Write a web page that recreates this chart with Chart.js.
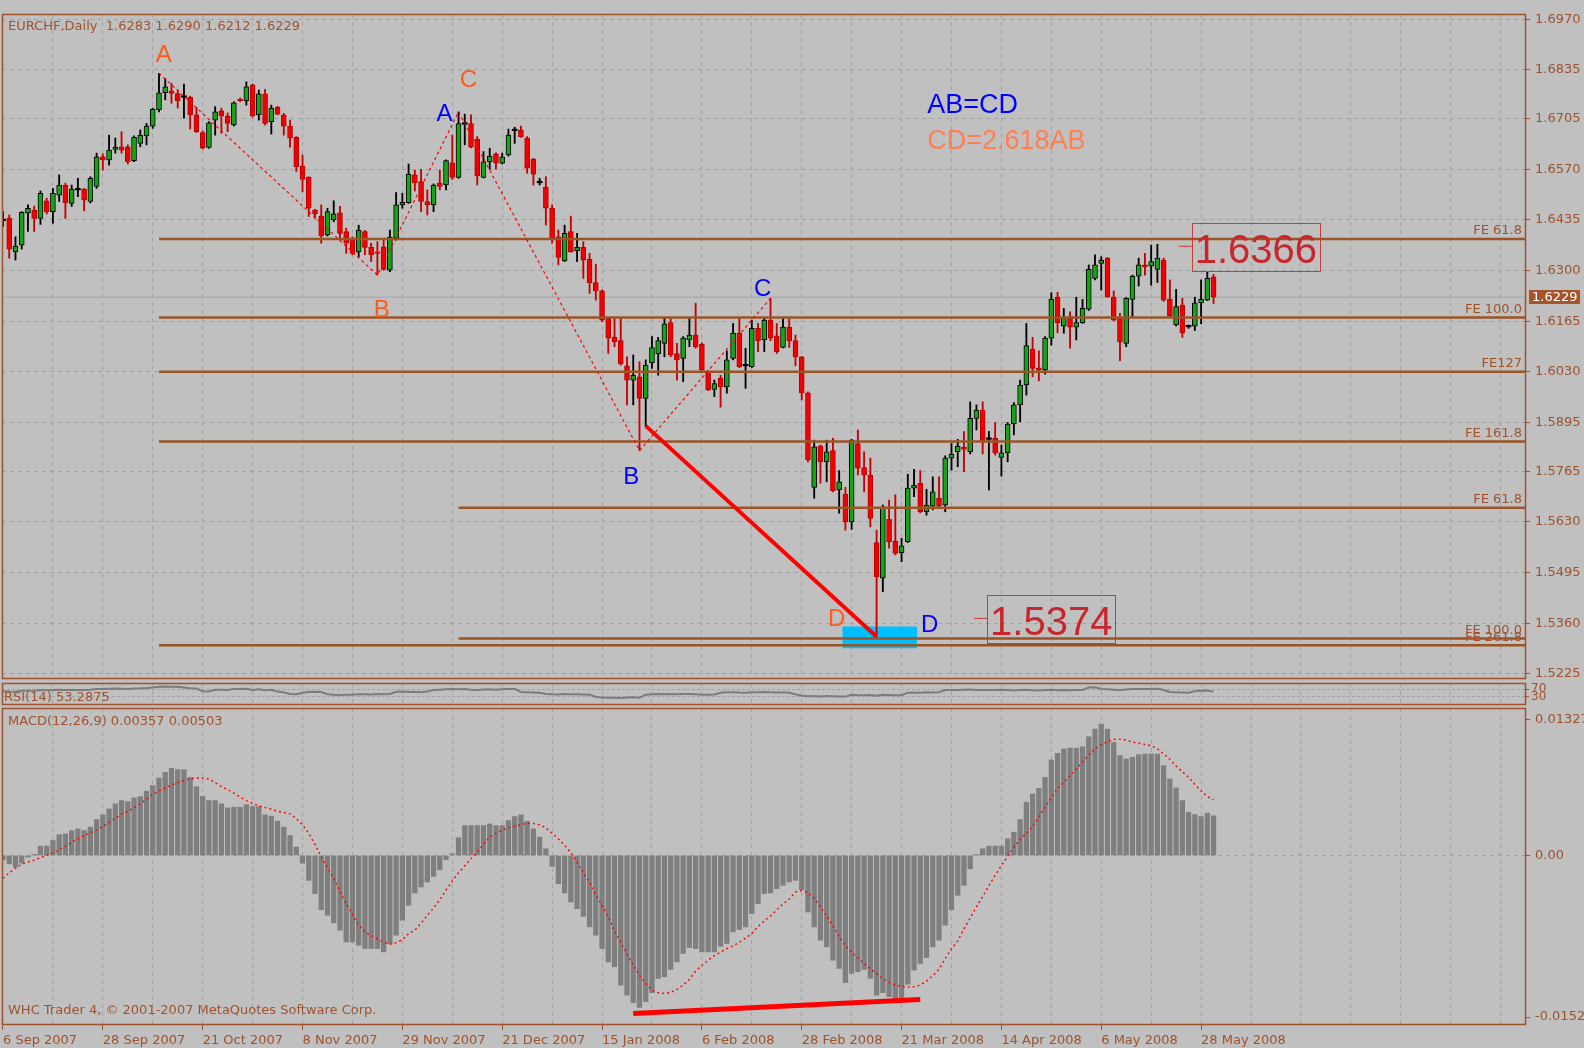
<!DOCTYPE html>
<html>
<head>
<meta charset="utf-8">
<script src="https://cdn.jsdelivr.net/npm/chart.js@4.4.1/dist/chart.umd.min.js"></script>
<style>
  html, body { margin:0; padding:0; background:#c0c0c0; }
  body { width:1584px; height:1048px; position:relative; overflow:hidden; }
  .pane { position:absolute; left:0; width:1584px; }
  .pane canvas { display:block; }
</style>
</head>
<body>
<div class="pane" style="top:0;height:684px"><canvas id="cMain"></canvas></div>
<div class="pane" style="top:680px;height:28px"><canvas id="cRsi"></canvas></div>
<div class="pane" style="top:704px;height:344px"><canvas id="cMacd"></canvas></div>
<script>
// ---------------- DATA ----------------
const dateLabels = ['6 Sep 2007','28 Sep 2007','21 Oct 2007','8 Nov 2007','29 Nov 2007','21 Dec 2007','15 Jan 2008','6 Feb 2008','28 Feb 2008','21 Mar 2008','14 Apr 2008','6 May 2008','28 May 2008'];

const opens = [
1.6433,1.6439,1.6350,1.6368,1.6453,1.6461,1.6439,1.6486,1.6457,1.6501,
1.6528,1.6479,1.6515,1.6517,1.6484,1.6524,1.6603,1.6595,1.6623,1.6630,
1.6630,1.6593,1.6639,1.6659,1.6685,1.6728,1.6774,1.6779,1.6772,1.6762,
1.6762,1.6715,1.6668,1.6628,1.6701,1.6726,1.6712,1.6688,1.6757,1.6753,
1.6795,1.6715,1.6771,1.6697,1.6735,1.6715,1.6685,1.6655,1.6579,1.6549,
1.6461,1.6445,1.6395,1.6435,1.6454,1.6404,1.6381,1.6350,1.6404,1.6362,
1.6350,1.6363,1.6301,1.6386,1.6475,1.6481,1.6555,1.6537,1.6484,1.6475,
1.6533,1.6528,1.6587,1.6548,1.6690,1.6692,1.6650,1.6548,1.6590,1.6611,
1.6586,1.6608,1.6673,1.6675,1.6653,1.6597,1.6534,1.6522,1.6466,1.6390,
1.6326,1.6404,1.6353,1.6362,1.6330,1.6268,1.6246,1.6173,1.6122,1.6113,
1.6046,1.6008,1.6017,1.5959,1.6054,1.6078,1.6106,1.6161,1.6079,1.6066,
1.6115,1.6128,1.6104,1.6030,1.5983,1.6013,1.5990,1.6066,1.6133,1.6046,
1.6044,1.6146,1.6115,1.6168,1.6126,1.6095,1.6149,1.6113,1.6070,1.5974,
1.5722,1.5832,1.5790,1.5820,1.5715,1.5704,1.5630,1.5839,1.5775,1.5755,
1.5575,1.5480,1.5637,1.5579,1.5548,1.5577,1.5720,1.5733,1.5657,1.5672,
1.5693,1.5675,1.5800,1.5817,1.5829,1.5817,1.5906,1.5928,1.5850,1.5853,
1.5802,1.5814,1.5891,1.5942,1.5995,1.6091,1.6041,1.6035,1.6120,1.6229,
1.6152,1.6177,1.6149,1.6161,1.6197,1.6279,1.6319,1.6333,1.6229,1.6175,
1.6106,1.6223,1.6285,1.6315,1.6312,1.6303,1.6328,1.6223,1.6155,1.6208,
1.6150,1.6152,1.6214,1.6221,1.6283];

const highs = [
1.6457,1.6448,1.6390,1.6457,1.6475,1.6472,1.6512,1.6493,1.6519,1.6555,
1.6533,1.6528,1.6546,1.6519,1.6550,1.6613,1.6611,1.6661,1.6653,1.6670,
1.6635,1.6659,1.6675,1.6692,1.6733,1.6826,1.6812,1.6799,1.6781,1.6797,
1.6765,1.6735,1.6672,1.6697,1.6737,1.6733,1.6720,1.6750,1.6760,1.6803,
1.6797,1.6781,1.6783,1.6741,1.6738,1.6719,1.6701,1.6657,1.6608,1.6550,
1.6463,1.6475,1.6466,1.6486,1.6471,1.6413,1.6390,1.6421,1.6407,1.6373,
1.6377,1.6386,1.6408,1.6508,1.6506,1.6584,1.6568,1.6570,1.6515,1.6531,
1.6568,1.6595,1.6661,1.6723,1.6717,1.6715,1.6657,1.6617,1.6626,1.6614,
1.6613,1.6677,1.6682,1.6685,1.6657,1.6599,1.6546,1.6550,1.6475,1.6408,
1.6421,1.6445,1.6399,1.6377,1.6346,1.6317,1.6248,1.6175,1.6173,1.6173,
1.6070,1.6075,1.6057,1.6062,1.6124,1.6122,1.6173,1.6173,1.6106,1.6124,
1.6173,1.6213,1.6107,1.6033,1.6008,1.6021,1.6086,1.6159,1.6173,1.6093,
1.6168,1.6159,1.6173,1.6226,1.6159,1.6173,1.6171,1.6128,1.6071,1.5977,
1.5848,1.5835,1.5848,1.5853,1.5767,1.5722,1.5850,1.5875,1.5817,1.5800,
1.5608,1.5675,1.5688,1.5702,1.5586,1.5757,1.5770,1.5767,1.5717,1.5750,
1.5750,1.5806,1.5839,1.5850,1.5871,1.5950,1.5942,1.5950,1.5871,1.5895,
1.5835,1.5895,1.5948,1.6008,1.6159,1.6122,1.6086,1.6124,1.6241,1.6242,
1.6199,1.6190,1.6229,1.6223,1.6315,1.6342,1.6337,1.6335,1.6246,1.6186,
1.6228,1.6288,1.6333,1.6346,1.6368,1.6370,1.6333,1.6275,1.6250,1.6226,
1.6155,1.6229,1.6275,1.6297,1.6290];

const lows = [
1.6417,1.6333,1.6328,1.6357,1.6404,1.6404,1.6423,1.6451,1.6426,1.6484,
1.6439,1.6471,1.6497,1.6459,1.6480,1.6519,1.6568,1.6581,1.6613,1.6613,
1.6584,1.6590,1.6630,1.6635,1.6679,1.6723,1.6755,1.6746,1.6733,1.6706,
1.6677,1.6668,1.6624,1.6626,1.6661,1.6666,1.6670,1.6685,1.6750,1.6741,
1.6709,1.6701,1.6688,1.6664,1.6715,1.6661,1.6629,1.6564,1.6510,1.6444,
1.6439,1.6373,1.6392,1.6430,1.6381,1.6346,1.6342,1.6337,1.6342,1.6324,
1.6288,1.6301,1.6297,1.6381,1.6466,1.6479,1.6512,1.6457,1.6448,1.6457,
1.6515,1.6515,1.6543,1.6546,1.6635,1.6627,1.6528,1.6547,1.6570,1.6570,
1.6584,1.6605,1.6639,1.6655,1.6559,1.6528,1.6528,1.6421,1.6373,1.6315,
1.6324,1.6349,1.6324,1.6279,1.6239,1.6221,1.6164,1.6079,1.6097,1.6048,
1.5942,1.5942,1.5820,1.5886,1.6039,1.6021,1.6070,1.6070,1.6008,1.6004,
1.6097,1.6093,1.6030,1.5980,1.5964,1.5936,1.5973,1.6062,1.6041,1.5986,
1.6041,1.6084,1.6084,1.6113,1.6079,1.6094,1.6095,1.6046,1.5955,1.5790,
1.5693,1.5733,1.5737,1.5710,1.5653,1.5608,1.5610,1.5755,1.5710,1.5617,
1.5324,1.5444,1.5560,1.5542,1.5524,1.5575,1.5697,1.5654,1.5648,1.5662,
1.5670,1.5657,1.5768,1.5777,1.5764,1.5811,1.5875,1.5811,1.5715,1.5808,
1.5752,1.5790,1.5862,1.5897,1.5968,1.6017,1.6006,1.6024,1.6101,1.6134,
1.6133,1.6093,1.6115,1.6159,1.6193,1.6275,1.6248,1.6229,1.6166,1.6060,
1.6097,1.6177,1.6259,1.6288,1.6261,1.6268,1.6218,1.6177,1.6152,1.6122,
1.6146,1.6140,1.6158,1.6220,1.6212];

const closes = [
1.6433,1.6357,1.6365,1.6455,1.6466,1.6439,1.6506,1.6457,1.6506,1.6528,
1.6481,1.6517,1.6515,1.6488,1.6546,1.6603,1.6595,1.6621,1.6629,1.6621,
1.6590,1.6655,1.6661,1.6685,1.6730,1.6774,1.6790,1.6772,1.6753,1.6762,
1.6715,1.6670,1.6626,1.6694,1.6723,1.6712,1.6692,1.6747,1.6753,1.6790,
1.6712,1.6771,1.6692,1.6733,1.6717,1.6685,1.6653,1.6577,1.6543,1.6466,
1.6451,1.6392,1.6457,1.6451,1.6399,1.6373,1.6346,1.6408,1.6362,1.6342,
1.6346,1.6303,1.6389,1.6475,1.6482,1.6557,1.6534,1.6484,1.6475,1.6528,
1.6524,1.6593,1.6548,1.6692,1.6690,1.6629,1.6552,1.6590,1.6605,1.6586,
1.6603,1.6661,1.6673,1.6657,1.6573,1.6557,1.6534,1.6466,1.6386,1.6335,
1.6399,1.6350,1.6362,1.6328,1.6268,1.6246,1.6168,1.6120,1.6110,1.6051,
1.6008,1.6021,1.5959,1.6048,1.6095,1.6113,1.6158,1.6075,1.6062,1.6120,
1.6128,1.6097,1.6035,1.5982,1.5999,1.5990,1.6062,1.6133,1.6044,1.6046,
1.6146,1.6113,1.6168,1.6120,1.6084,1.6149,1.6113,1.6070,1.5974,1.5795,
1.5830,1.5790,1.5817,1.5713,1.5737,1.5630,1.5848,1.5773,1.5755,1.5639,
1.5484,1.5666,1.5577,1.5546,1.5566,1.5720,1.5728,1.5657,1.5675,1.5710,
1.5672,1.5800,1.5811,1.5832,1.5823,1.5906,1.5928,1.5844,1.5850,1.5814,
1.5814,1.5891,1.5942,1.5995,1.6100,1.6039,1.6035,1.6120,1.6224,1.6161,
1.6175,1.6149,1.6161,1.6199,1.6303,1.6315,1.6328,1.6230,1.6168,1.6110,
1.6226,1.6285,1.6315,1.6310,1.6324,1.6333,1.6221,1.6179,1.6204,1.6134,
1.6150,1.6214,1.6223,1.6279,1.6229];

const rsiValues = [
60,58,57,62,63,62,
66,65,67,68,66,67,67,66,68,72,71,
73,74,73,72,74,75,
77,80,84,85,84,83,
80,76,74,
60,58,
68,68,67,71,71,73,66,70,65,68,
58,54,46,44,
52,56,57,56,
44,41,40,42,41,
44,44,43,45,44,46,
57,58,56,57,55,58,
66,68,70,71,70,72,68,66,69,70,68,70,71,72,
56,54,53,52,
46,44,43,45,44,44,43,42,
30,27,26,26,25,27,28,26,
42,44,45,44,46,44,45,46,44,42,41,43,
52,54,55,53,52,54,55,56,55,53,54,52,
44,36,34,35,33,35,34,33,32,
42,40,39,40,36,41,40,39,39,
52,53,52,54,53,55,
66,67,66,68,69,67,66,67,66,68,67,
64,66,68,65,64,66,68,65,66,65,66,67,
80,81,
72,70,68,66,69,71,72,71,72,73,66,
56,54,53,52,
60,62,64,58];

const macdHist = [
-0.00039,-0.00075,-0.00105,-0.00069,-0.00015,0.00009,0.00084,0.00084,0.00135,0.00186,
0.00194,0.00224,0.00239,0.00224,0.00254,0.00323,0.00365,0.00419,0.00464,0.00494,
0.00485,0.00518,0.00530,0.00578,0.00628,0.00697,0.00748,0.00784,0.00772,0.00772,
0.00703,0.00619,0.00533,0.00494,0.00494,0.00464,0.00428,0.00434,0.00434,0.00458,
0.00440,0.00440,0.00365,0.00353,0.00308,0.00254,0.00180,0.00075,-0.00069,-0.00224,
-0.00344,-0.00488,-0.00539,-0.00607,-0.00673,-0.00778,-0.00778,-0.00808,-0.00838,-0.00838,
-0.00838,-0.00868,-0.00793,-0.00718,-0.00583,-0.00449,-0.00338,-0.00284,-0.00239,-0.00189,
-0.00129,-0.00039,0.00015,0.00159,0.00269,0.00269,0.00269,0.00269,0.00284,0.00269,
0.00269,0.00314,0.00350,0.00365,0.00308,0.00239,0.00165,0.00060,-0.00099,-0.00254,
-0.00338,-0.00419,-0.00479,-0.00548,-0.00643,-0.00718,-0.00838,-0.00958,-0.01002,-0.01167,
-0.01257,-0.01326,-0.01367,-0.01317,-0.01236,-0.01107,-0.01092,-0.01026,-0.00958,-0.00883,
-0.00829,-0.00838,-0.00868,-0.00868,-0.00868,-0.00817,-0.00793,-0.00688,-0.00667,-0.00643,
-0.00524,-0.00434,-0.00344,-0.00338,-0.00299,-0.00269,-0.00239,-0.00224,-0.00308,-0.00509,
-0.00643,-0.00763,-0.00823,-0.00943,-0.01017,-0.01146,-0.01062,-0.01047,-0.01026,-0.01107,
-0.01257,-0.01236,-0.01272,-0.01287,-0.01287,-0.01158,-0.01032,-0.00972,-0.00919,-0.00823,
-0.00763,-0.00628,-0.00488,-0.00359,-0.00269,-0.00120,0.00009,0.00060,0.00084,0.00084,
0.00084,0.00150,0.00209,0.00323,0.00479,0.00554,0.00604,0.00703,0.00859,0.00919,
0.00958,0.00966,0.00966,0.00978,0.01068,0.01137,0.01182,0.01137,0.01017,0.00898,
0.00868,0.00883,0.00907,0.00913,0.00913,0.00913,0.00808,0.00688,0.00607,0.00494,
0.00389,0.00368,0.00350,0.00380,0.00357];

const macdSignal = [
-0.00206,-0.00156,-0.00114,-0.00078,-0.00060,-0.00042,-0.00021,0.00000,0.00024,0.00051,
0.00084,0.00120,0.00150,0.00177,0.00203,0.00230,0.00260,0.00296,0.00332,0.00371,
0.00398,0.00428,0.00464,0.00506,0.00551,0.00580,0.00607,0.00634,0.00655,0.00673,
0.00688,0.00697,0.00697,0.00688,0.00655,0.00619,0.00592,0.00560,0.00524,0.00494,
0.00470,0.00446,0.00431,0.00416,0.00398,0.00386,0.00374,0.00332,0.00275,0.00200,
0.00099,-0.00012,-0.00111,-0.00206,-0.00326,-0.00434,-0.00530,-0.00628,-0.00688,-0.00721,
-0.00751,-0.00781,-0.00799,-0.00784,-0.00760,-0.00703,-0.00673,-0.00610,-0.00539,-0.00473,
-0.00398,-0.00311,-0.00230,-0.00156,-0.00093,-0.00030,0.00030,0.00102,0.00165,0.00200,
0.00227,0.00248,0.00263,0.00278,0.00290,0.00287,0.00275,0.00248,0.00200,0.00150,
0.00090,0.00027,-0.00060,-0.00159,-0.00242,-0.00356,-0.00452,-0.00551,-0.00682,-0.00778,
-0.00889,-0.00987,-0.01080,-0.01152,-0.01212,-0.01236,-0.01242,-0.01233,-0.01206,-0.01167,
-0.01116,-0.01041,-0.00990,-0.00943,-0.00901,-0.00871,-0.00838,-0.00814,-0.00781,-0.00745,
-0.00703,-0.00640,-0.00589,-0.00545,-0.00488,-0.00437,-0.00392,-0.00329,-0.00317,-0.00335,
-0.00386,-0.00461,-0.00548,-0.00634,-0.00733,-0.00811,-0.00874,-0.00922,-0.00972,-0.01020,
-0.01065,-0.01107,-0.01143,-0.01167,-0.01179,-0.01185,-0.01182,-0.01167,-0.01131,-0.01083,
-0.01023,-0.00928,-0.00841,-0.00769,-0.00661,-0.00563,-0.00464,-0.00368,-0.00272,-0.00177,
-0.00093,-0.00006,0.00075,0.00144,0.00200,0.00260,0.00347,0.00434,0.00521,0.00601,
0.00658,0.00718,0.00778,0.00841,0.00904,0.00961,0.00996,0.01026,0.01044,0.01047,
0.01038,0.01020,0.01011,0.00999,0.00987,0.00961,0.00913,0.00865,0.00805,0.00754,
0.00703,0.00640,0.00580,0.00530,0.00503];

const priceTicks = [1.6970,1.6835,1.6705,1.6570,1.6435,1.6300,1.6165,1.6030,1.5895,1.5765,1.5630,1.5495,1.5360,1.5225];
const macdTickLabels = ['0.01327','0.00','-0.01526'];
const macdTickValues = [0.01219, 0, -0.01454];
const rsiLevels = [70, 30];

// Fibonacci expansion objects
const fe1Start = 25;
const fe1Levels = [1.6384, 1.6175, 1.6030, 1.5844, 1.5301];
const fe1Names = ['FE 61.8','FE 100.0','FE127','FE 161.8','FE 261.8'];
const fe2Start = 73;
const fe2Levels = [1.5668, 1.5319];
const fe2Names = ['FE 61.8','FE 100.0'];

// zigzag (dotted), trendline, MACD divergence line
const zigzagBars = [25, 60, 73, 102, 123];
const zigzagPrices = [1.6826, 1.6288, 1.6723, 1.5820, 1.6226];
const trendBars = [103, 140];
const trendPrices = [1.5886, 1.5324];
const macdDivBars = [101, 147];
const macdDivValues = [-0.01422, -0.01296];
const zoneBars = [134.5, 146.5];
const zonePrices = [1.5351, 1.5293];
const lastPrice = 1.6229;
const headerText = 'EURCHF,Daily  1.6283 1.6290 1.6212 1.6229';
const macdText = 'MACD(12,26,9) 0.00357 0.00503';
const rsiText = 'RSI(14) 53.2875';
const copyText = 'WHC Trader 4, \u00A9 2001-2007 MetaQuotes Software Corp.';

// ---------------- STYLE / GEOMETRY ----------------
const BROWN = '#a0522d';
const FE_COLOR = '#9a5426';
const GRID = '#a2a2a2';
const ORANGE = '#ff5a1e';
const CORAL = '#ff7f50';
const BLUE = '#0000ff';
const DARKRED = '#c8262c';
const AXIS_FONT = '"DejaVu Sans", Verdana, sans-serif';
const ANNO_FONT = '"Liberation Sans", Arial, sans-serif';
const X_MIN = -0.16, X_MAX = 244.07;
const P_MIN = 1.52112, P_MAX = 1.69839;
const gridBars = []; for (let v = 0; v <= 240; v += 8) gridBars.push(v);

const isDoji = i => opens[i] === closes[i];
const isUp = i => closes[i] > opens[i];

function zeroPad(s) { s.paddingTop = 0; s.paddingBottom = 0; s.paddingLeft = 0; s.paddingRight = 0; }

function xScale(showLabels) {
  return {
    type: 'linear', min: X_MIN, max: X_MAX, offset: false, position: 'bottom',
    afterBuildTicks: s => { s.ticks = gridBars.map(v => ({ value: v })); },
    afterFit: s => { s.height = showLabels ? 23 : 0; zeroPad(s); },
    ticks: {
      display: showLabels, autoSkip: false, maxRotation: 0, minRotation: 0, align: 'start',
      color: BROWN, font: { family: AXIS_FONT, size: 13 }, padding: 3,
      callback: v => (v % 16 === 0 && v / 16 < dateLabels.length) ? dateLabels[v / 16] : ''
    },
    grid: {
      offset: false, color: GRID, lineWidth: 1, drawTicks: showLabels, tickLength: 5,
      tickColor: c => (c.tick && c.tick.value % 16 === 0 && c.tick.value / 16 < dateLabels.length) ? BROWN : 'rgba(0,0,0,0)'
    },
    border: { display: false, dash: [4, 4] }
  };
}

function txt(ctx, s, x, y, font, color, align, base) {
  ctx.save(); ctx.font = font; ctx.fillStyle = color; ctx.textAlign = align || 'left';
  ctx.textBaseline = base || 'middle'; ctx.fillText(s, x, y); ctx.restore();
}

const framePlugin = {
  id: 'frame',
  afterDraw(chart) {
    const { ctx, chartArea: a } = chart;
    ctx.save(); ctx.strokeStyle = BROWN; ctx.lineWidth = 1.5;
    ctx.strokeRect(a.left + 0.5, a.top + 0.5, a.right - a.left - 1, a.bottom - a.top - 1);
    ctx.restore();
  }
};

const common = {
  responsive: true, maintainAspectRatio: false, animation: false, devicePixelRatio: 1, events: [],
  plugins: { legend: { display: false }, tooltip: { enabled: false } }
};

function seg(points, color, width, dash, order) {
  return { type: 'line', data: points, borderColor: color, borderWidth: width, borderDash: dash || [],
           pointRadius: 0, fill: false, tension: 0, order: order };
}

// ---------------- MAIN CHART ----------------
const mainDatasets = [];
mainDatasets.push({ type: 'line', data: [{ x: zoneBars[0], y: zonePrices[0] }, { x: zoneBars[1], y: zonePrices[0] }],
  borderWidth: 0, borderColor: 'rgba(0,0,0,0)', backgroundColor: '#00bfff', pointRadius: 0,
  fill: { value: zonePrices[1] }, order: 100 });
mainDatasets.push(seg([{ x: X_MIN, y: lastPrice }, { x: X_MAX, y: lastPrice }], '#a4a4a4', 1, [], 90));
mainDatasets.push({ type: 'bar', data: highs.map((h, i) => ({ x: i, y: [lows[i], h] })), grouped: false,
  barThickness: 1.2, backgroundColor: ctx => (isUp(ctx.dataIndex) || isDoji(ctx.dataIndex)) ? '#000000' : '#c40000',
  borderWidth: 0, order: 30 });
mainDatasets.push({ type: 'bar', data: opens.map((o, i) => ({ x: i, y: [o, closes[i]] })), grouped: false,
  barThickness: 5, minBarLength: 1.5, borderSkipped: false,
  backgroundColor: ctx => isDoji(ctx.dataIndex) ? '#000000' : (isUp(ctx.dataIndex) ? '#17a317' : '#f00000'),
  borderColor: ctx => isDoji(ctx.dataIndex) ? '#000000' : (isUp(ctx.dataIndex) ? '#000000' : '#b80000'),
  borderWidth: ctx => isDoji(ctx.dataIndex) ? 0 : 1, order: 20 });
fe1Levels.forEach(l => mainDatasets.push(seg([{ x: fe1Start, y: l }, { x: X_MAX, y: l }], FE_COLOR, 2.5, [], 10)));
fe2Levels.forEach(l => mainDatasets.push(seg([{ x: fe2Start, y: l }, { x: X_MAX, y: l }], FE_COLOR, 2.5, [], 10)));
mainDatasets.push(seg(zigzagBars.map((b, k) => ({ x: b, y: zigzagPrices[k] })), '#ff0000', 1.2, [3, 3], 5));
mainDatasets.push(seg(trendBars.map((b, k) => ({ x: b, y: trendPrices[k] })), '#ff0000', 4, [], 4));

const waveLetters = [
  { t: 'A', i: 25.75, p: 1.6873, c: ORANGE }, { t: 'B', i: 60.7, p: 1.6195, c: ORANGE },
  { t: 'C', i: 74.6, p: 1.6806, c: ORANGE }, { t: 'D', i: 133.6, p: 1.5370, c: ORANGE },
  { t: 'A', i: 70.75, p: 1.6717, c: BLUE }, { t: 'B', i: 100.7, p: 1.5748, c: BLUE },
  { t: 'C', i: 121.75, p: 1.6251, c: BLUE }, { t: 'D', i: 148.5, p: 1.5354, c: BLUE }
];
const priceLabels = [{ v: 1.6366, i: 190.5 }, { v: 1.5374, i: 157.7 }];

const mainAnno = {
  id: 'mainAnno',
  afterDatasetsDraw(chart) {
    const { ctx, scales: { x, y }, chartArea: a } = chart;
    const feAll = fe1Levels.map((l, k) => [l, fe1Names[k]]).concat(fe2Levels.map((l, k) => [l, fe2Names[k]]));
    feAll.forEach(([l, n]) => txt(ctx, n, a.right - 4, y.getPixelForValue(l) - 1.5, '13px ' + AXIS_FONT, BROWN, 'right', 'bottom'));
    waveLetters.forEach(L => txt(ctx, L.t, x.getPixelForValue(L.i), y.getPixelForValue(L.p), '24px ' + ANNO_FONT, L.c, 'center', 'middle'));
    txt(ctx, 'AB=CD', x.getPixelForValue(148.1), y.getPixelForValue(1.6741), '27px ' + ANNO_FONT, BLUE, 'left', 'middle');
    txt(ctx, 'CD=2.618AB', x.getPixelForValue(148.1), y.getPixelForValue(1.6644), '27px ' + ANNO_FONT, CORAL, 'left', 'middle');
    priceLabels.forEach(P => {
      const px = x.getPixelForValue(P.i), py = y.getPixelForValue(P.v);
      ctx.save();
      ctx.font = '40px ' + ANNO_FONT;
      const w = ctx.measureText(P.v.toFixed(4)).width;
      ctx.strokeStyle = '#cc3a3a'; ctx.lineWidth = 1;
      ctx.strokeRect(Math.round(px) + 0.5, Math.round(py - 23) + 0.5, Math.round(w + 6), 48);
      ctx.beginPath(); ctx.moveTo(px - 13, py + 0.5); ctx.lineTo(px, py + 0.5); ctx.stroke();
      ctx.fillStyle = DARKRED; ctx.textAlign = 'left'; ctx.textBaseline = 'alphabetic';
      ctx.fillText(P.v.toFixed(4), px + 3, py + 17);
      ctx.restore();
    });
    txt(ctx, headerText, a.left + 6, a.top + 13, '13px ' + AXIS_FONT, BROWN, 'left', 'middle');
  },
  afterDraw(chart) {
    const { ctx, scales: { y }, chartArea: a } = chart;
    const py = y.getPixelForValue(lastPrice);
    ctx.save(); ctx.fillStyle = '#a5552a'; ctx.fillRect(a.right + 3, Math.round(py - 7), 51, 14); ctx.restore();
    txt(ctx, lastPrice.toFixed(4), a.right + 6, py + 0.5, '13px ' + AXIS_FONT, '#ffffff', 'left', 'middle');
  }
};

new Chart(document.getElementById('cMain'), {
  type: 'bar',
  data: { datasets: mainDatasets },
  options: Object.assign({}, common, {
    layout: { padding: { left: 2, right: 0, top: 14, bottom: 5 } },
    scales: {
      x: xScale(false),
      y: {
        type: 'linear', position: 'right', min: P_MIN, max: P_MAX,
        afterBuildTicks: s => { s.ticks = priceTicks.map(v => ({ value: v })); },
        afterFit: s => { s.width = 58; zeroPad(s); },
        ticks: { color: BROWN, font: { family: AXIS_FONT, size: 13 }, padding: 5, autoSkip: false, callback: v => Number(v).toFixed(4) },
        grid: { color: GRID, tickColor: BROWN, tickLength: 4, drawTicks: true },
        border: { display: false, dash: [4, 4] }
      }
    }
  }),
  plugins: [mainAnno, framePlugin]
});

// ---------------- RSI STRIP ----------------
const rsiAnno = {
  id: 'rsiAnno',
  afterDatasetsDraw(chart) {
    const { ctx, chartArea: a } = chart;
    txt(ctx, rsiText, a.left + 2, a.bottom - 7, '13px ' + AXIS_FONT, BROWN, 'left', 'middle');
  }
};
new Chart(document.getElementById('cRsi'), {
  type: 'line',
  data: { datasets: [{ data: rsiValues.map((v, i) => ({ x: i, y: v })), borderColor: '#7c7c7c', borderWidth: 2, pointRadius: 0, tension: 0 }] },
  options: Object.assign({}, common, {
    layout: { padding: { left: 2, right: 0, top: 3, bottom: 3 } },
    scales: {
      x: xScale(false),
      y: {
        type: 'linear', position: 'right', min: -12, max: 103,
        afterBuildTicks: s => { s.ticks = rsiLevels.map(v => ({ value: v })); },
        afterFit: s => { s.width = 58; zeroPad(s); },
        ticks: { color: BROWN, font: { family: AXIS_FONT, size: 12 }, padding: 2, autoSkip: false },
        grid: { color: GRID, tickColor: BROWN, tickLength: 3, drawTicks: true },
        border: { display: false, dash: [3, 2] }
      }
    }
  }),
  plugins: [rsiAnno, framePlugin]
});

// ---------------- MACD ----------------
const macdAnno = {
  id: 'macdAnno',
  afterDatasetsDraw(chart) {
    const { ctx, chartArea: a } = chart;
    txt(ctx, macdText, a.left + 6, a.top + 14, '13px ' + AXIS_FONT, BROWN, 'left', 'middle');
    txt(ctx, copyText, a.left + 6, a.bottom - 14, '13px ' + AXIS_FONT, BROWN, 'left', 'middle');
  }
};
new Chart(document.getElementById('cMacd'), {
  type: 'bar',
  data: { datasets: [
    { type: 'bar', data: macdHist.map((v, i) => ({ x: i, y: v })), grouped: false, barThickness: 4.6,
      backgroundColor: '#7f7f7f', borderWidth: 0, order: 20 },
    seg(macdSignal.map((v, i) => ({ x: i, y: v })), '#ff0000', 1.4, [2, 3], 10),
    seg(macdDivBars.map((b, k) => ({ x: b, y: macdDivValues[k] })), '#ff0000', 5, [], 5)
  ] },
  options: Object.assign({}, common, {
    layout: { padding: { left: 2, right: 0, top: 4, bottom: 0 } },
    scales: {
      x: xScale(true),
      y: {
        type: 'linear', position: 'right', min: -0.01526, max: 0.01327,
        afterBuildTicks: s => { s.ticks = macdTickValues.map(v => ({ value: v })); },
        afterFit: s => { s.width = 58; zeroPad(s); },
        ticks: { color: BROWN, font: { family: AXIS_FONT, size: 13 }, padding: 5, autoSkip: false,
                 callback: (v, idx) => macdTickLabels[idx] },
        grid: { color: c => (c.tick && c.tick.value === 0) ? GRID : 'rgba(0,0,0,0)', tickColor: BROWN, tickLength: 4, drawTicks: true },
        border: { display: false, dash: [4, 4] }
      }
    }
  }),
  plugins: [macdAnno, framePlugin]
});
</script>
</body>
</html>
